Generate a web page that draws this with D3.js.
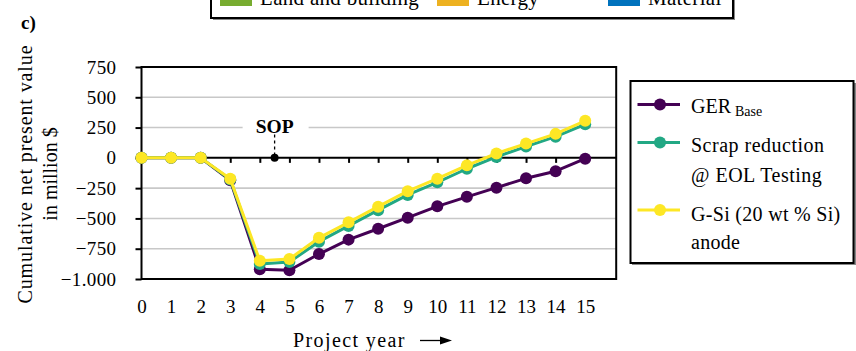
<!DOCTYPE html>
<html>
<head>
<meta charset="utf-8">
<script src="https://cdn.jsdelivr.net/npm/d3@7/dist/d3.min.js"></script>
<style>
  body { margin: 0; background: #fff; }
  svg { display: block; font-family: "Liberation Serif", "Times New Roman", serif; }
</style>
</head>
<body>
<svg id="chart" width="856" height="351"></svg>
<script>
// Project years on the x axis
const years = [0, 1, 2, 3, 4, 5, 6, 7, 8, 9, 10, 11, 12, 13, 14, 15];

// Cumulative net present value per scenario, million $
const gerBase        = [0, 0, 0, -185, -920, -928, -794, -675, -585, -494, -400, -322, -246, -169, -110, -7];
const scrapReduction = [0, 0, 0, -178, -876, -860, -692, -562, -432, -306, -202, -90, 8, 93, 175, 277];
const gSiAnode       = [0, 0, 0, -172, -849, -835, -660, -532, -403, -275, -172, -62, 36, 118, 198, 306];

const seriesNames  = ["GER", "Scrap reduction", "G-Si (20 wt % Si)"];
const seriesColors = ["#440154", "#22a884", "#fde725"];

// Y axis ticks and their labels (German-style thousands separator)
const yTicks      = [-1000, -750, -500, -250, 0, 250, 500, 750];
const yTickLabels = ["\u22121.000", "\u2212750", "\u2212500", "\u2212250", "0", "250", "500", "750"];
const gridValues  = [500, 250, -250, -500, -750];

// Start of production marker
const sopYear = 4.5;
const sopLabel = "SOP";

// Cost-category legend above the panel
const costCategories = ["Land and building", "Energy", "Material"];
const costColors     = ["#77ac30", "#edb120", "#0072bd"];

const svg = d3.select("#chart");

const x = d3.scaleLinear().domain([0, 15]).range([141.5, 585.2]);
const y = d3.scaleLinear().domain([-1000, 750]).range([279, 67]);
const plotLeft = x(0), plotRight = x(15) + 31, plotTop = y(750), plotBottom = y(-1000);

// --- cost-category legend (its upper part lies above the page) ---
const topLeg = svg.append("g");
topLeg.append("rect").attr("x", 213).attr("y", -20).attr("width", 522).attr("height", 40)
  .attr("fill", "#888");
topLeg.append("rect").attr("x", 211).attr("y", -22).attr("width", 522).attr("height", 40)
  .attr("fill", "#fff").attr("stroke", "#000").attr("stroke-width", 2);
const topItemX = [220, 437, 608];
costCategories.forEach((name, i) => {
  topLeg.append("rect").attr("x", topItemX[i]).attr("y", -8).attr("width", 32).attr("height", 14)
    .attr("fill", costColors[i]);
  topLeg.append("text").attr("x", topItemX[i] + 40).attr("y", 5)
    .attr("font-size", 21).attr("letter-spacing", 0.3).attr("fill", "#000").text(name);
});

// panel letter
svg.append("text").attr("x", 21).attr("y", 29).attr("font-size", 19).attr("font-weight", "bold")
  .text("c)");

// --- gridlines ---
svg.append("g").selectAll("line").data(gridValues).join("line")
  .attr("x1", plotLeft).attr("x2", plotRight)
  .attr("y1", d => y(d)).attr("y2", d => y(d))
  .attr("stroke", "#c8c8c8").attr("stroke-width", 1.6);

// --- y axis ---
const yAxis = d3.axisLeft(y).tickValues(yTicks)
  .tickFormat(d => yTickLabels[yTicks.indexOf(d)])
  .tickSize(6).tickPadding(19);
const yg = svg.append("g").attr("transform", `translate(${plotLeft},0)`).call(yAxis);
yg.select(".domain").remove();
yg.selectAll(".tick line").attr("stroke", "#000").attr("stroke-width", 2);
yg.selectAll(".tick text").attr("font-size", 19).attr("font-family", "Liberation Serif")
  .attr("fill", "#000").attr("letter-spacing", 0.4);

// frame
svg.append("rect").attr("x", plotLeft).attr("y", plotTop)
  .attr("width", plotRight - plotLeft).attr("height", plotBottom - plotTop)
  .attr("fill", "none").attr("stroke", "#000").attr("stroke-width", 2);

// --- zero line with year ticks ---
const xAxis = d3.axisBottom(x).tickValues(years).tickSize(5).tickFormat("");
const xg = svg.append("g").attr("transform", `translate(0,${y(0)})`).call(xAxis);
xg.select(".domain").remove();
xg.selectAll(".tick line").attr("stroke", "#000").attr("stroke-width", 2);
svg.append("line").attr("x1", plotLeft).attr("x2", plotRight)
  .attr("y1", y(0)).attr("y2", y(0)).attr("stroke", "#000").attr("stroke-width", 2);

// year labels beneath the panel
const xLab = d3.axisBottom(x).tickValues(years).tickSize(0).tickPadding(0);
const xl = svg.append("g").attr("transform", "translate(0,299)").call(xLab);
xl.select(".domain").remove();
xl.selectAll(".tick text").attr("font-size", 19).attr("font-family", "Liberation Serif")
  .attr("fill", "#000").attr("dy", "0.71em");

// x axis title
svg.append("text").attr("x", 293).attr("y", 347).attr("font-size", 20)
  .attr("letter-spacing", 1.4).text("Project year");
svg.append("line").attr("x1", 420).attr("x2", 442).attr("y1", 340.5).attr("y2", 340.5)
  .attr("stroke", "#000").attr("stroke-width", 1.3);
svg.append("path").attr("d", "M440,336.5 L452,340.5 L440,344.5 Z").attr("fill", "#000");

// y axis title
const yt = svg.append("text").attr("transform", "translate(32,174) rotate(-90)")
  .attr("text-anchor", "middle").attr("font-size", 20);
yt.append("tspan").attr("x", 0).attr("y", 0).attr("letter-spacing", 0.9).text("Cumulative net present value");
yt.append("tspan").attr("x", 0).attr("y", 25).text("in million $");

// --- SOP marker ---
svg.append("rect").attr("x", x(sopYear) - 32).attr("y", 116).attr("width", 66).attr("height", 19)
  .attr("fill", "#fff");
svg.append("text").attr("x", x(sopYear)).attr("y", 132.5).attr("text-anchor", "middle")
  .attr("font-size", 19.5).attr("font-weight", "bold").text(sopLabel);
svg.append("line").attr("x1", x(sopYear)).attr("x2", x(sopYear))
  .attr("y1", 134.5).attr("y2", y(0))
  .attr("stroke", "#000").attr("stroke-width", 1.3).attr("stroke-dasharray", "3,3");
svg.append("circle").attr("cx", x(sopYear)).attr("cy", y(0)).attr("r", 4).attr("fill", "#000");

// --- series ---
const seriesData = [gerBase, scrapReduction, gSiAnode];
const line = d3.line().x((d, i) => x(years[i])).y(d => y(d));
seriesData.forEach((vals, s) => {
  const g = svg.append("g");
  g.append("path").datum(vals).attr("d", line)
    .attr("fill", "none").attr("stroke", seriesColors[s]).attr("stroke-width", 3)
    .attr("stroke-linejoin", "round");
  g.selectAll("circle").data(vals).join("circle")
    .attr("cx", (d, i) => x(years[i])).attr("cy", d => y(d)).attr("r", 6)
    .attr("fill", seriesColors[s]);
});

// --- scenario legend ---
const leg = svg.append("g");
leg.append("rect").attr("x", 632).attr("y", 83).attr("width", 224).attr("height", 182).attr("fill", "#888");
leg.append("rect").attr("x", 630.5).attr("y", 81).attr("width", 223).attr("height", 182)
  .attr("fill", "#fff").attr("stroke", "#000").attr("stroke-width", 2);
const legY = [104.5, 142.5, 210];
seriesNames.forEach((name, i) => {
  leg.append("line").attr("x1", 637.5).attr("x2", 680).attr("y1", legY[i]).attr("y2", legY[i])
    .attr("stroke", seriesColors[i]).attr("stroke-width", 3);
  leg.append("circle").attr("cx", 660).attr("cy", legY[i]).attr("r", 6).attr("fill", seriesColors[i]);
});
const legText = leg.append("g").attr("font-size", 20).attr("fill", "#000");
const t0 = legText.append("text").attr("x", 691).attr("y", 113.3);
t0.append("tspan").text(seriesNames[0]);
t0.append("tspan").attr("font-size", 14).attr("dx", 4).attr("dy", 3).text("Base");
const t1 = legText.append("text").attr("letter-spacing", 0.5);
t1.append("tspan").attr("x", 691).attr("y", 151.7).text(seriesNames[1]);
t1.append("tspan").attr("x", 691).attr("y", 181.7).text("@ EOL Testing");
const t2 = legText.append("text").attr("letter-spacing", 0.3);
t2.append("tspan").attr("x", 691).attr("y", 220.5).text(seriesNames[2]);
t2.append("tspan").attr("x", 691).attr("y", 248.5).text("anode");
</script>
</body>
</html>
